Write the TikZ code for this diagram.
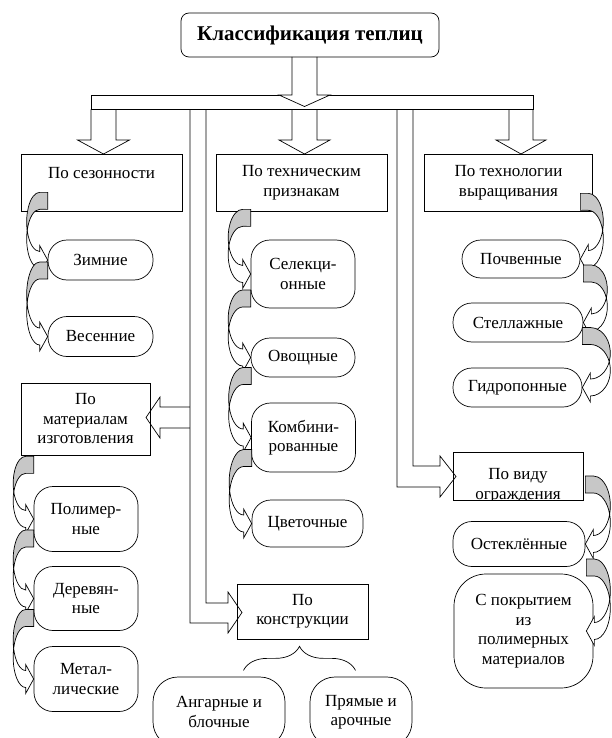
\documentclass[tikz,border=0pt]{standalone}
\usepackage{fontspec}
\setmainfont{Liberation Serif}
\usetikzlibrary{calc,decorations.pathreplacing}

\definecolor{curlgray}{gray}{0.78}
\newlength{\curlthick}\setlength{\curlthick}{17pt}
\newlength{\curlhead}\setlength{\curlhead}{8pt}

% curved arrow, bent to the left, pointing right (#1 start, #2 tip, #3 bend)
\newcommand{\curlL}[3]{%
  \draw[fill=white] let \p1=#1, \p2=#2,
      \n1={0.5*(\y1-\y2)-0.25*\curlthick},
      \n2={asin(0.5*\curlthick/\n1)} in
    (\x2-\curlhead,\y1-2*\n1) arc[start angle=270, end angle=180+\n2, x radius=#3pt, y radius=\n1]
    arc[start angle=180-\n2, end angle=270, x radius=#3pt, y radius=\n1]
    -- ++(0,-6) -- (\x2,\y2) -- (\x2-\curlhead,\y1-2*\n1+6) -- cycle;
  \draw[fill=curlgray] let \p1=#1, \p2=#2,
      \n1={0.5*(\y1-\y2)-0.25*\curlthick},
      \n2={asin(0.5*\curlthick/\n1)} in
    (\x2,\y1) -- (\x2-\curlhead,\y1) arc[start angle=90, end angle=180+\n2, x radius=#3pt, y radius=\n1]
    arc[start angle=180-\n2, end angle=90, x radius=#3pt, y radius=\n1] -- (\x2,\y1-\curlthick) -- cycle;
}
% same, bent to the right, pointing left
\newcommand{\curlR}[3]{%
  \draw[fill=white] let \p1=#1, \p2=#2,
      \n1={0.5*(\y1-\y2)-0.25*\curlthick},
      \n2={asin(0.5*\curlthick/\n1)} in
    (\x2+\curlhead,\y1-2*\n1) arc[start angle=-90, end angle=-\n2, x radius=#3pt, y radius=\n1]
    arc[start angle=\n2, end angle=-90, x radius=#3pt, y radius=\n1]
    -- ++(0,-6) -- (\x2,\y2) -- (\x2+\curlhead,\y1-2*\n1+6) -- cycle;
  \draw[fill=curlgray] let \p1=#1, \p2=#2,
      \n1={0.5*(\y1-\y2)-0.25*\curlthick},
      \n2={asin(0.5*\curlthick/\n1)} in
    (\x2,\y1) -- (\x2+\curlhead,\y1) arc[start angle=90, end angle=-\n2, x radius=#3pt, y radius=\n1]
    arc[start angle=\n2, end angle=90, x radius=#3pt, y radius=\n1] -- (\x2,\y1-\curlthick) -- cycle;
}

\begin{document}
\begin{tikzpicture}[x=1pt, y=1pt, line width=0.7pt,
    txt/.style={font=\fontsize{17}{19.5}\selectfont},
    cat/.style={txt, draw, align=center, inner sep=0pt},
    item/.style={txt, draw, align=center, inner sep=0pt, rounded corners=19pt},
    head/.style={draw, rounded corners=8pt, inner sep=0pt, font=\bfseries\fontsize{21}{24}\selectfont},
    sz/.style 2 args={minimum width=#1, minimum height=#2},
    blk/.style={draw, fill=white},
    brc/.style={decorate, decoration={brace, amplitude=24pt}}]
    \useasboundingbox (0,0) rectangle (612,-738);

    % hollow block arrows
    \draw[blk] (190,-407) -- (160,-407) -- (160,-397) -- (146,-417.5) -- (160,-438) -- (160,-428) -- (190,-428); % to materials
    \draw[blk] (206,-109.5) -- (206,-603) -- (228,-603) -- (228,-592) -- (242,-612.5) -- (228,-633) -- (228,-623) -- (190,-623) -- (190,-109.5); % left channel
    \draw[blk] (413,-109.5) -- (413,-466) -- (440,-466) -- (440,-456) -- (456,-476.5) -- (440,-497) -- (440,-487) -- (397,-487) -- (397,-109.5); % right channel
    \draw[blk] (91,-109.5) -- (91,-140) -- (77.5,-140) -- (103.5,-154) -- (129.5,-140) -- (116,-140) -- (116,-109.5);
    \draw[blk] (292,-109.5) -- (292,-140) -- (279,-140) -- (304.5,-154) -- (330,-140) -- (317,-140) -- (317,-109.5);
    \draw[blk] (509,-109.5) -- (509,-140) -- (496,-140) -- (521,-154) -- (546,-140) -- (533,-140) -- (533,-109.5);
    \draw (91,-95) rectangle (533,-109.5); % bar
    \draw[blk] (292,-57) -- (292,-95) -- (279,-95) -- (304.5,-106.5) -- (330,-95) -- (317,-95) -- (317,-57); % from title

    \node[head, sz={258pt}{44pt}] (title) at (310,-35) {Классификация теплиц};

    \node[cat, sz={161pt}{57pt}] (sez) at (101.5,-182.5) {По сезонности\\\phantom{П}};
    \node[cat, sz={171pt}{57pt}] (tech) at (301.5,-182.5) {По техническим\\признакам};
    \node[cat, sz={168pt}{57pt}] (tekh) at (508.5,-182.5) {По технологии\\выращивания};

    \node[item, sz={105pt}{40pt}] (zim) at (100.5,-260) {Зимние};
    \node[item, sz={105pt}{40pt}] (ves) at (100.5,-336.5) {Весенние};

    \node[item, sz={104pt}{68pt}] (sel) at (303,-274) {Селекци-\\онные};
    \node[item, sz={104pt}{39pt}] (ovo) at (303,-357.5) {Овощные};
    \node[item, sz={104pt}{69pt}] (komb) at (303.5,-437.5) {Комбини-\\рованные};
    \node[item, sz={111pt}{47pt}] (cvet) at (307.5,-523.5) {Цветочные};

    \node[item, sz={118pt}{38pt}] (poch) at (521,-259) {Почвенные};
    \node[item, sz={130pt}{39pt}] (stel) at (518,-322.5) {Стеллажные};
    \node[item, sz={129pt}{39pt}] (gidr) at (517.5,-387.5) {Гидропонные};

    \node[cat, sz={129pt}{72pt}] (mat) at (85.5,-419) {По\\материалам\\изготовления};
    \node[item, sz={104pt}{65pt}] (pol) at (86,-519) {Полимер-\\ные};
    \node[item, sz={104pt}{64pt}] (der) at (86,-598.5) {Деревян-\\ные};
    \node[item, sz={104pt}{65pt}] (met) at (86,-679) {Метал-\\лические};

    \node[cat, sz={131pt}{55pt}] (konst) at (302.5,-611.5) {По\\конструкции};
    \node[item, rounded corners=25pt, sz={132pt}{70pt}] (ang) at (219,-712) {Ангарные и\\блочные};
    \node[item, rounded corners=25pt, sz={102pt}{70pt}] (pryam) at (361,-712) {Прямые и\\арочные};
    \draw[brc] ($(konst.south)+(-59,-31)$) -- ($(konst.south)+(53,-31)$);

    \node[draw, sz={130pt}{48pt}] (vid) at (518,-476) {};
    \begin{scope}
        \clip (vid.south west) rectangle (vid.north east);
        \node[txt, anchor=base] (vid1) at (518,-479.5) {По виду};
        \node[txt, anchor=base] (vid2) at (518,-499) {ограждения};
    \end{scope}
    \node[item, sz={132pt}{45pt}] (ostek) at (519,-544) {Остеклённые};
    \node[item, rounded corners=32pt, sz={139pt}{114pt}] (pokr) at (523.5,-631) {С покрытием\\из\\полимерных\\материалов};

    % curved arrows
    \curlL{([yshift=19pt]sez.south)}{(zim.west)}{13}
    \curlL{([yshift=-2pt]zim.west)}{(ves.west)}{13}
    \curlL{([yshift=2pt]tech.south)}{(sel.west)}{14.5}
    \curlL{([yshift=-16pt]sel.west)}{(ovo.west)}{14.5}
    \curlL{([yshift=-10pt]ovo.west)}{(komb.west)}{14.5}
    \curlL{([yshift=-12pt]komb.west)}{(cvet.west)}{14.5}
    \curlL{([yshift=-1pt]mat.south)}{(pol.west)}{12.5}
    \curlL{([yshift=-11pt]pol.west)}{(der.west)}{12.5}
    \curlL{([yshift=-11pt]der.west)}{(met.west)}{12.5}
    \curlR{([yshift=18pt]tekh.south)}{(poch.east)}{15}
    \curlR{([yshift=-6pt]poch.east)}{(stel.east)}{16}
    \curlR{([yshift=-5pt]stel.east)}{(gidr.east)}{20}
    \curlR{(vid.east)}{(ostek.east)}{17}
    \curlR{([yshift=-15pt]ostek.east)}{([xshift=-7pt]pokr.east)}{16}
\end{tikzpicture}
\end{document}
